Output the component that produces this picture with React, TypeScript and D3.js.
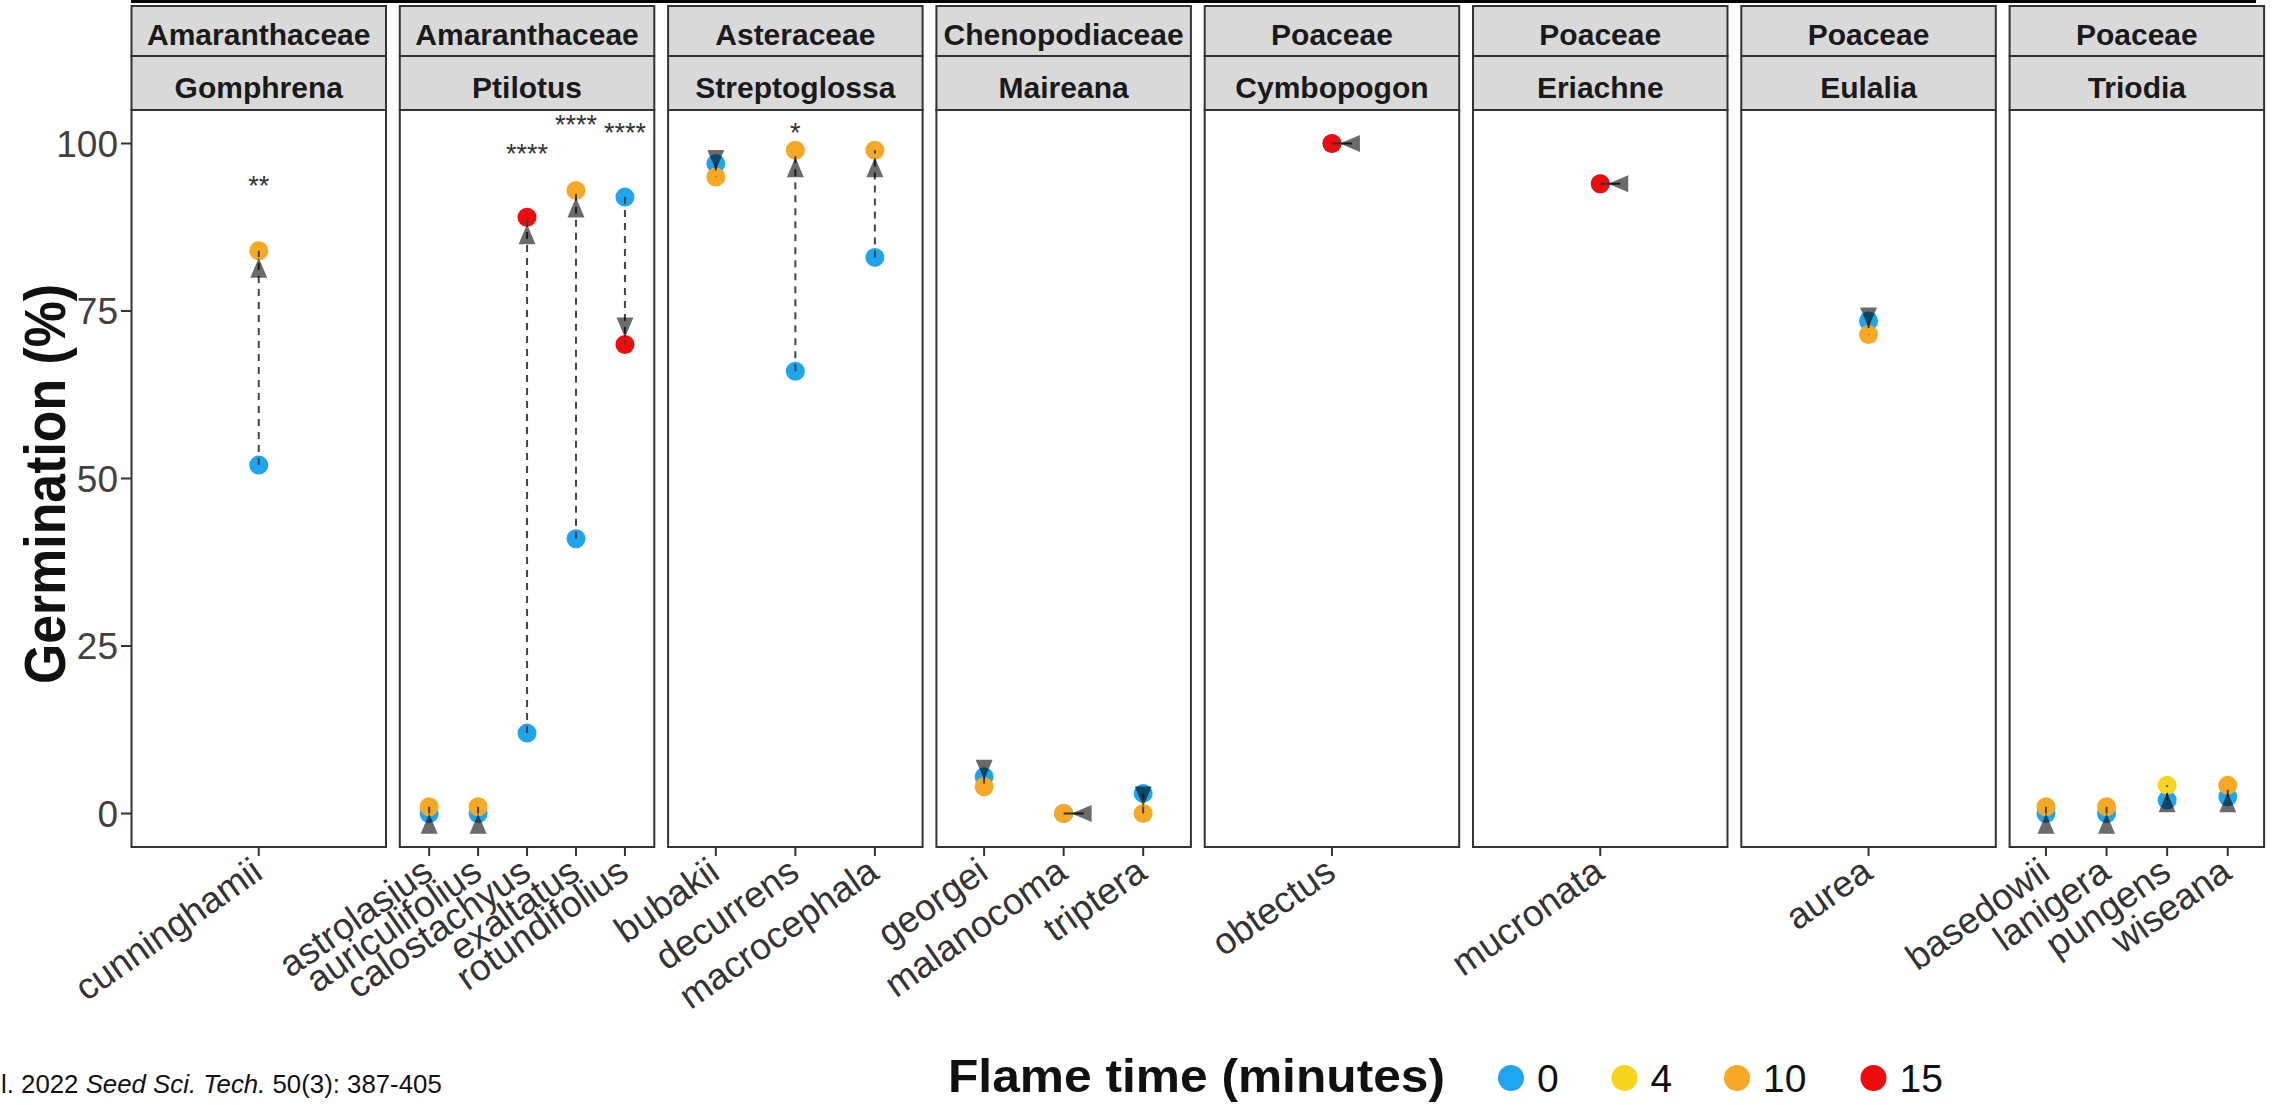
import React from "react";
import * as d3 from "d3";

// ---------------- data ----------------
const families = ["Amaranthaceae", "Amaranthaceae", "Asteraceae", "Chenopodiaceae", "Poaceae", "Poaceae", "Poaceae", "Poaceae"];
const genera = ["Gomphrena", "Ptilotus", "Streptoglossa", "Maireana", "Cymbopogon", "Eriachne", "Eulalia", "Triodia"];

const species = [
  "cunninghamii",
  "astrolasius", "auriculifolius", "calostachyus", "exaltatus", "rotundifolius",
  "bubakii", "decurrens", "macrocephala",
  "georgei", "malanocoma", "triptera",
  "obtectus",
  "mucronata",
  "aurea",
  "basedowii", "lanigera", "pungens", "wiseana",
];
const speciesGenus = [
  "Gomphrena",
  "Ptilotus", "Ptilotus", "Ptilotus", "Ptilotus", "Ptilotus",
  "Streptoglossa", "Streptoglossa", "Streptoglossa",
  "Maireana", "Maireana", "Maireana",
  "Cymbopogon",
  "Eriachne",
  "Eulalia",
  "Triodia", "Triodia", "Triodia", "Triodia",
];
// germination (%) of the unburnt control (0 min)
const controlGerm = [52, 0, 0, 12, 41, 92, 97, 66, 83, 5.5, 0, 3, 100, 94, 73.5, 0, 0, 2, 2.5];
// flame time (min) giving the extreme response, and its germination (%)
const treatTime = [10, 10, 10, 15, 10, 15, 10, 10, 10, 10, 10, 10, 15, 15, 10, 10, 10, 4, 10];
const treatGerm = [84, 1, 1, 89, 93, 70, 95, 99, 99, 4, 0, 0, 100, 94, 71.5, 1, 1, 4.2, 4.2];
// significance labels and their heights (%)
const sigLabels = ["**", "", "", "****", "****", "****", "", "*", "", "", "", "", "", "", "", "", "", "", ""];
const sigHeights = [94.5, 0, 0, 99.3, 103.6, 102.5, 0, 102.5, 0, 0, 0, 0, 0, 0, 0, 0, 0, 0, 0];

const flameTimes = [0, 4, 10, 15];
const flameColors = ["#1FA5EE", "#F7D51C", "#F7A925", "#EE0C0C"];
const yTicks = [0, 25, 50, 75, 100];

const citation = { pre: "l. 2022 ", journal: "Seed Sci. Tech.", post: " 50(3): 387-405" };

// ---------------- layout ----------------
const W = 2280;
const H = 1105;
const FONT = "'Liberation Sans', Arial, Helvetica, sans-serif";
const panelLeft0 = 131.5;
const panelStep = 268.3;
const panelW = 254.5;
const stripTop = 6;
const stripMid = 56;
const panelTop = 110;
const panelBottom = 847;

const colorOf = d3.scaleOrdinal<number, string>().domain(flameTimes).range(flameColors);
const y = d3.scaleLinear().domain([-5, 105]).range([panelBottom, panelTop]);

export default function App() {
  const panels = genera.map((g, i) => {
    const left = panelLeft0 + i * panelStep;
    const sp = species.filter((_, k) => speciesGenus[k] === g);
    const x = d3.scalePoint<string>().domain(sp).range([left, left + panelW]).padding(0.6);
    return { g, fam: families[i], left, sp, x };
  });

  const xOf = (name: string) => {
    const k = species.indexOf(name);
    const p = panels.find((pp) => pp.g === speciesGenus[k])!;
    return p.x(name)!;
  };

  const R = 9.5;

  return (
    <svg
      width={W}
      height={H}
      viewBox={`0 0 ${W} ${H}`}
      style={{ position: "absolute", left: 0, top: 0, background: "#fff" }}
      fontFamily={FONT}
    >
      <rect x={0} y={0} width={W} height={H} fill="#fff" />
      {/* cropped black rule at top */}
      <rect x={131} y={0} width={2125} height={3} fill="#000" />

      {/* panels */}
      {panels.map((p, i) => (
        <g key={i}>
          <rect x={p.left} y={stripTop} width={panelW} height={stripMid - stripTop} fill="#D9D9D9" stroke="#333" strokeWidth={2} />
          <rect x={p.left} y={stripMid} width={panelW} height={panelTop - stripMid} fill="#D9D9D9" stroke="#333" strokeWidth={2} />
          <text x={p.left + panelW / 2} y={45} textAnchor="middle" fontWeight="bold" fontSize={30} fill="#1A1A1A">
            {p.fam}
          </text>
          <text x={p.left + panelW / 2} y={97.5} textAnchor="middle" fontWeight="bold" fontSize={30} fill="#1A1A1A">
            {p.g}
          </text>
          <rect x={p.left} y={panelTop} width={panelW} height={panelBottom - panelTop} fill="#fff" stroke="#333" strokeWidth={2} />
          {p.sp.map((s) => (
            <g key={s}>
              <line x1={p.x(s)} x2={p.x(s)} y1={panelBottom} y2={panelBottom + 9} stroke="#333" strokeWidth={2} />
              <text
                transform={`translate(${p.x(s)! + 6},${panelBottom + 30}) rotate(-35)`}
                textAnchor="end"
                fontSize={37}
                fill="#333"
              >
                {s}
              </text>
            </g>
          ))}
        </g>
      ))}

      {/* y axis */}
      {yTicks.map((t) => (
        <g key={t}>
          <line x1={121} x2={panelLeft0} y1={y(t)} y2={y(t)} stroke="#333" strokeWidth={2} />
          <text x={118} y={y(t)} dy="0.36em" textAnchor="end" fontSize={37} fill="#404040">
            {t}
          </text>
        </g>
      ))}
      <text
        transform={`translate(65,484) rotate(-90)`}
        textAnchor="middle"
        fontWeight="bold"
        fontSize={57}
        textLength={400}
        lengthAdjust="spacingAndGlyphs"
        fill="#111"
      >
        Germination (%)
      </text>

      {/* marks */}
      {species.map((s, k) => {
        const cx = xOf(s);
        const y0 = y(controlGerm[k]);
        const y1 = y(treatGerm[k]);
        const flat = controlGerm[k] === treatGerm[k];
        const up = treatGerm[k] > controlGerm[k];
        let tri: string;
        if (flat) {
          tri = `${cx + 8},${y1} ${cx + 28},${y1 - 8.5} ${cx + 28},${y1 + 8.5}`;
        } else if (up) {
          const tip = y1 + 7;
          tri = `${cx},${tip} ${cx - 8.5},${tip + 20} ${cx + 8.5},${tip + 20}`;
        } else {
          const tip = y1 - 7;
          tri = `${cx},${tip} ${cx - 8.5},${tip - 20} ${cx + 8.5},${tip - 20}`;
        }
        return (
          <g key={s}>
            <circle cx={cx} cy={y0} r={R} fill={colorOf(0)} />
            <circle cx={cx} cy={y1} r={R} fill={colorOf(treatTime[k])} />
            {flat ? (
              <line x1={cx} x2={cx + 20} y1={y1} y2={y1} stroke="#333" strokeWidth={2} />
            ) : (
              <line x1={cx} x2={cx} y1={y0} y2={y1} stroke="#444" strokeWidth={2} strokeDasharray="7,6" />
            )}
            <polygon points={tri} fill="#000" fillOpacity={0.58} />
            {sigLabels[k] && (
              <text x={cx} y={y(sigHeights[k]) + 15} textAnchor="middle" fontSize={27} fill="#333">
                {sigLabels[k]}
              </text>
            )}
          </g>
        );
      })}

      {/* legend */}
      <text x={948} y={1092} fontWeight="bold" fontSize={47} textLength={497} lengthAdjust="spacingAndGlyphs" fill="#111">
        Flame time (minutes)
      </text>
      {flameTimes.map((t, i) => {
        const cxs = [1511, 1624.5, 1737, 1873.5];
        return (
          <g key={t}>
            <circle cx={cxs[i]} cy={1078} r={13} fill={colorOf(t)} />
            <text x={cxs[i] + 26} y={1092} fontSize={39} fill="#111">
              {t}
            </text>
          </g>
        );
      })}

      {/* citation */}
      <text x={1} y={1093} fontSize={25.8} fill="#111">
        {citation.pre}
        <tspan fontStyle="italic">{citation.journal}</tspan>
        {citation.post}
      </text>
    </svg>
  );
}
